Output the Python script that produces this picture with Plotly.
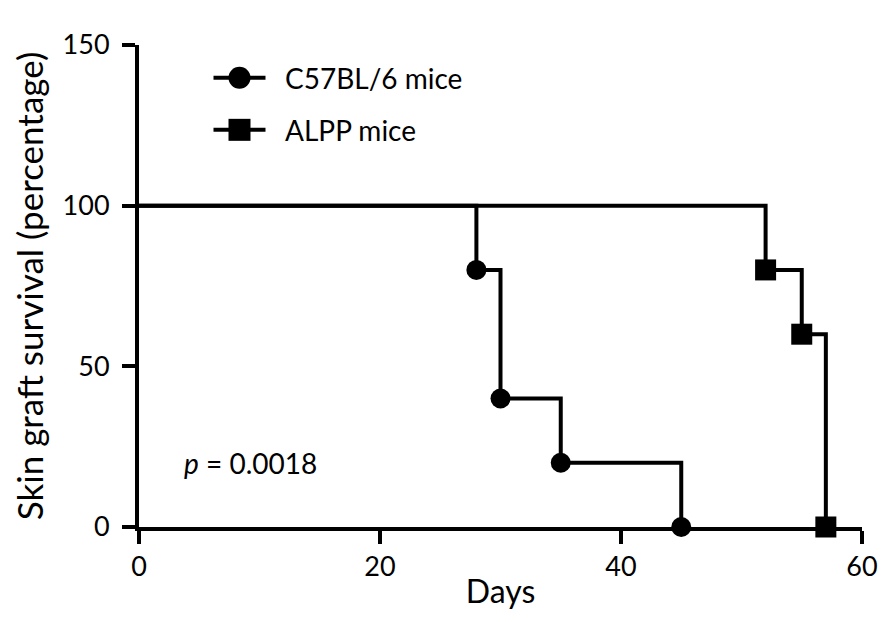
import plotly.graph_objects as go

# Kaplan-Meier style skin graft survival
days_c57 = [0, 28, 30, 35, 45]
surv_c57 = [100, 80, 40, 20, 0]
days_alpp = [0, 52, 55, 57]
surv_alpp = [100, 80, 60, 0]

x_ticks = [0, 20, 40, 60]
y_ticks = [0, 50, 100, 150]

series_names = ["C57BL/6 mice", "ALPP mice"]
series_symbols = ["circle", "square"]

FONT = "Lato"
BLACK = "#000000"
LW = 4

fig = go.Figure()

fig.add_trace(go.Scatter(
    x=days_c57, y=surv_c57,
    mode="lines+markers",
    line=dict(shape="hv", color=BLACK, width=LW),
    marker=dict(symbol="circle", color=BLACK, opacity=1, line=dict(width=0),
                size=[0] + [20] * (len(days_c57) - 1)),
    name=series_names[0], showlegend=False,
    cliponaxis=False,
))

fig.add_trace(go.Scatter(
    x=days_alpp, y=surv_alpp,
    mode="lines+markers",
    line=dict(shape="hv", color=BLACK, width=LW),
    marker=dict(symbol="square", color=BLACK, opacity=1, line=dict(width=0),
                size=[0] + [21] * (len(days_alpp) - 1)),
    name=series_names[1], showlegend=False,
    cliponaxis=False,
))

# hand-made legend (bigger glyphs than plotly's legend allows)
leg_x = 0.139
leg_y = [0.932, 0.824]
for name, sym, yy in zip(series_names, series_symbols, leg_y):
    fig.add_shape(type="line", xref="paper", yref="paper",
                  xsizemode="pixel", xanchor=leg_x, x0=-26, x1=26,
                  y0=yy, y1=yy, line=dict(color=BLACK, width=LW))
    fig.add_shape(type="circle" if sym == "circle" else "rect",
                  xref="paper", yref="paper",
                  xsizemode="pixel", ysizemode="pixel",
                  xanchor=leg_x, yanchor=yy,
                  x0=-11, x1=11, y0=-11, y1=11,
                  fillcolor=BLACK, line=dict(width=0))
    fig.add_annotation(x=0.199, y=yy, xref="paper", yref="paper",
                       text=name, showarrow=False,
                       xanchor="left", yanchor="middle",
                       font=dict(family=FONT, size=28, color=BLACK))

fig.add_annotation(
    x=0.059, y=0.133, xref="paper", yref="paper",
    text="<i>p</i> = 0.0018", showarrow=False,
    xanchor="left", yanchor="middle",
    font=dict(family=FONT, size=28, color=BLACK),
)

fig.update_layout(
    width=886, height=622,
    margin=dict(l=127, r=32, t=37, b=103),
    paper_bgcolor="white", plot_bgcolor="white",
    font=dict(family=FONT, color=BLACK),
    showlegend=False,
)

fig.update_xaxes(
    range=[0, 60], tickvals=x_ticks,
    showline=True, linecolor=BLACK, linewidth=LW,
    ticks="outside", ticklen=13, tickwidth=LW, tickcolor=BLACK,
    showgrid=False, zeroline=False,
    tickfont=dict(family=FONT, size=27, color=BLACK),
    title=dict(text="Days", font=dict(family=FONT, size=32, color=BLACK), standoff=0),
)

fig.update_yaxes(
    range=[0, 150], tickvals=y_ticks,
    showline=True, linecolor=BLACK, linewidth=LW,
    ticks="outside", ticklen=13, tickwidth=LW, tickcolor=BLACK,
    ticklabelstandoff=7,
    showgrid=False, zeroline=False,
    tickfont=dict(family=FONT, size=27, color=BLACK),
    title=dict(text="Skin graft survival (percentage)",
               font=dict(family=FONT, size=35, color=BLACK), standoff=18),
)

fig.write_html("out.html")
